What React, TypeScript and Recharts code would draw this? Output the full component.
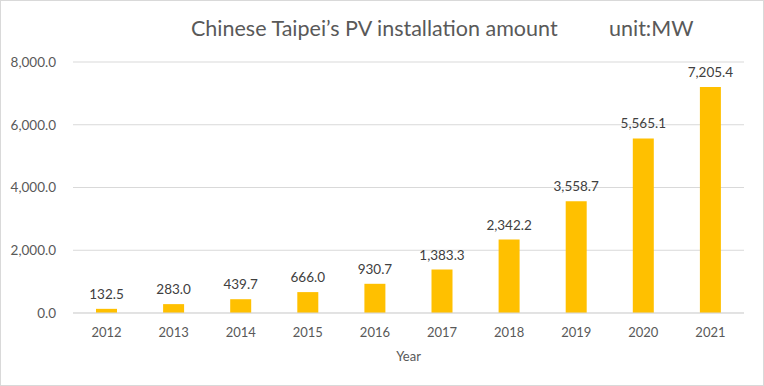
import React from 'react';
import { BarChart, Bar, XAxis, YAxis, CartesianGrid, LabelList } from 'recharts';

const years = ['2012', '2013', '2014', '2015', '2016', '2017', '2018', '2019', '2020', '2021'];
const installed = [132.5, 283.0, 439.7, 666.0, 930.7, 1383.3, 2342.2, 3558.7, 5565.1, 7205.4];
const yTicks = [0, 2000, 4000, 6000, 8000];

const data = years.map((year, i) => ({ year, value: installed[i] }));

const fmt = (v: number) =>
  Number(v).toLocaleString('en-US', { minimumFractionDigits: 1, maximumFractionDigits: 1 });

const font = 'Lato, "Open Sans", sans-serif';

const App = () => {
  return (
    <div
      style={{
        position: 'absolute',
        left: 0,
        top: 0,
        width: 764,
        height: 386,
        boxSizing: 'border-box',
        border: '1px solid #d9d9d9',
        background: '#fff',
        fontFamily: font,
      }}
    >
      <div
        style={{
          position: 'absolute',
          top: 14,
          left: 190,
          fontSize: 21.5,
          color: '#595959',
          whiteSpace: 'pre',
        }}
      >
        Chinese Taipei{'\u2019'}s PV installation amount
      </div>
      <div
        style={{
          position: 'absolute',
          top: 14,
          left: 608,
          fontSize: 21.5,
          color: '#595959',
          whiteSpace: 'pre',
        }}
      >
        unit:MW
      </div>
      <div style={{ position: 'absolute', left: -1, top: -1 }}>
        <BarChart
          width={764}
          height={386}
          data={data}
          margin={{ top: 62, right: 20, bottom: 21, left: 0 }}
        >
          <CartesianGrid vertical={false} stroke="#d9d9d9" />
          <XAxis
            dataKey="year"
            axisLine={{ stroke: '#d9d9d9' }}
            tickLine={false}
            tickSize={0}
            tickMargin={15}
            height={52}
            tick={{ fill: '#595959', fontSize: 13, fontFamily: font }}
            label={{ value: 'Year', position: 'insideBottom', offset: 4, fill: '#595959', fontSize: 13, fontFamily: font }}
          />
          <YAxis
            domain={[0, 8000]}
            ticks={yTicks}
            width={73}
            axisLine={false}
            tickLine={false}
            tickSize={0}
            tickMargin={17}
            tickFormatter={fmt}
            tick={{ fill: '#595959', fontSize: 13.5, fontFamily: font }}
          />
          <Bar dataKey="value" fill="#ffc000" barSize={21} isAnimationActive={false}>
            <LabelList
              dataKey="value"
              position="top"
              offset={10}
              formatter={fmt}
              style={{ fill: '#404040', fontSize: 13.5, fontFamily: font }}
            />
          </Bar>
        </BarChart>
      </div>
    </div>
  );
};

export default App;
